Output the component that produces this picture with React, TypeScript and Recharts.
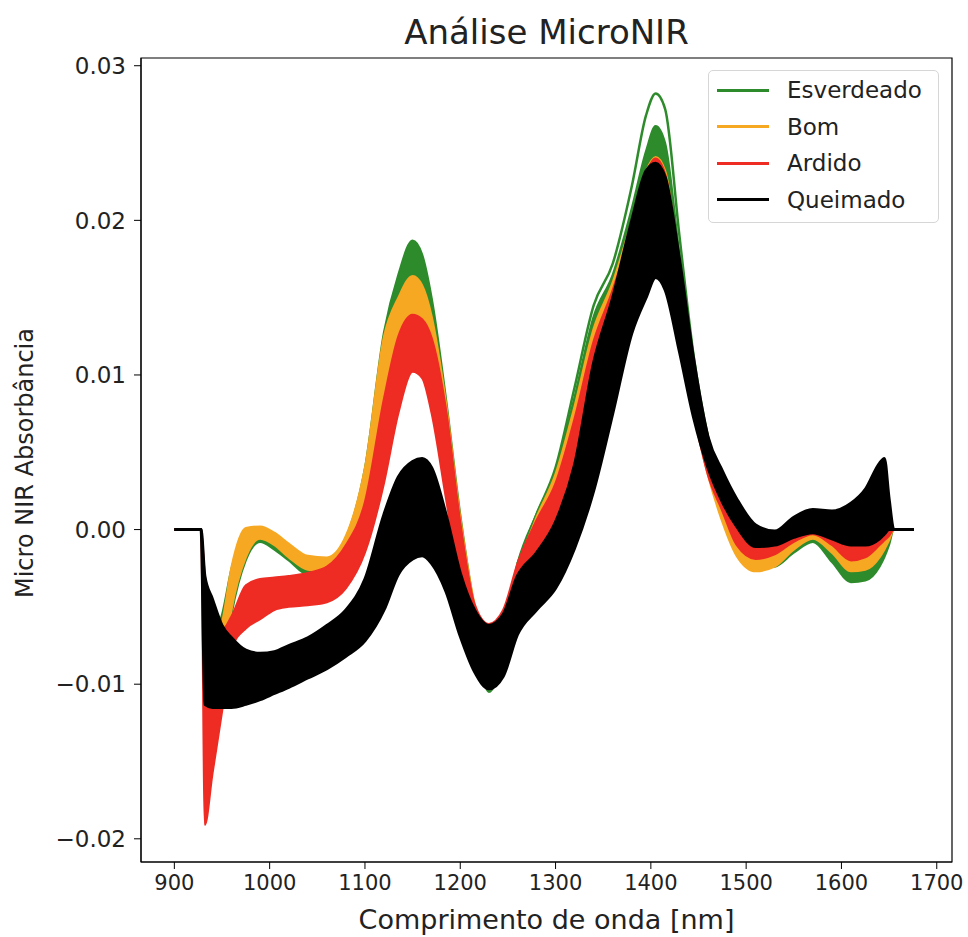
import { ComposedChart, Area, XAxis, YAxis, ReferenceArea } from 'recharts';

// wavelength grid [nm]
const wavelengths = [
  900, 928, 932, 940, 950, 960, 975, 990, 1005, 1020,
  1040, 1060, 1080, 1100, 1120, 1135, 1150, 1160, 1170, 1185,
  1200, 1215, 1230, 1245, 1260, 1280, 1300, 1320, 1340, 1360,
  1380, 1395, 1405, 1415, 1430, 1445, 1460, 1475, 1490, 1510,
  1530, 1550, 1570, 1590, 1610, 1625, 1640, 1645, 1650, 1655, 1676,
];

// envelope of each class (upper / lower spectra)
const esverdeadoHi = [
  0, 0, -0.005, -0.007, -0.0055, -0.0025, -0.0002, -0.0001, -0.0005, -0.0012,
  -0.0019, -0.0019, -0.0005, 0.004, 0.0128, 0.0165, 0.0187, 0.0178, 0.015, 0.0085,
  0.001, -0.005, -0.0085, -0.0065, -0.0022, 0.001, 0.0038, 0.0086, 0.0138, 0.0165,
  0.0208, 0.0245, 0.0261, 0.025, 0.0178, 0.0108, 0.006, 0.003, 0.0005, -0.001,
  -0.0012, -0.0006, -0.0001, -0.001, -0.002, -0.0022, -0.0012, -0.0008, -0.0003, 0, 0,
];
const esverdeadoLo = [
  0, 0, -0.009, -0.0105, -0.0095, -0.0055, -0.002, -0.0008, -0.0013, -0.002,
  -0.0029, -0.0029, -0.0016, 0.0012, 0.0075, 0.012, 0.0158, 0.015, 0.011, 0.005,
  -0.001, -0.0065, -0.0105, -0.0085, -0.0045, -0.0015, 0.0012, 0.005, 0.009, 0.0125,
  0.0165, 0.02, 0.0222, 0.021, 0.014, 0.008, 0.004, 0.001, -0.0012, -0.0025,
  -0.0024, -0.0015, -0.0008, -0.0021, -0.0034, -0.0033, -0.0024, -0.0018, -0.001, 0, 0,
];
// single greenish spectrum standing above the rest around 1400 nm
const esverdeadoOutlier = [
  null, null, null, null, null, null, null, null, null, null,
  null, null, null, null, null, null, null, null, null, null,
  null, null, null, null, -0.0022, 0.001, 0.004, 0.0092, 0.0145, 0.0172,
  0.0222, 0.0268, 0.0282, 0.0272, 0.019, 0.0112, 0.006, 0.003, 0.0005, null,
  null, null, null, null, null, null, null, null, null, null, null,
];
const bomHi = [
  0, 0, -0.0055, -0.0072, -0.006, -0.0024, 0.0001, 0.0002, -0.0002, -0.0009,
  -0.0017, -0.0018, -0.0004, 0.004, 0.0125, 0.015, 0.0164, 0.0158, 0.0138, 0.0082,
  0.0008, -0.0048, -0.007, -0.0058, -0.0025, 0.0008, 0.0036, 0.008, 0.013, 0.016,
  0.02, 0.0232, 0.0241, 0.0232, 0.017, 0.0105, 0.0058, 0.0028, -0.0004, -0.001,
  -0.0009, -0.0004, 0.0001, -0.0006, -0.0013, -0.0014, -0.0008, -0.0005, -0.0002, 0, 0,
];
const bomLo = [
  0, 0, -0.0095, -0.0105, -0.0095, -0.0052, -0.0018, -0.0006, -0.001, -0.0018,
  -0.0026, -0.0027, -0.0015, 0.0008, 0.007, 0.011, 0.0132, 0.0128, 0.01, 0.004,
  -0.002, -0.0068, -0.0092, -0.008, -0.0048, -0.0018, 0.0008, 0.0045, 0.0085, 0.0118,
  0.0155, 0.019, 0.0205, 0.0195, 0.013, 0.0075, 0.0035, 0.0005, -0.0017, -0.0027,
  -0.0024, -0.0013, -0.0006, -0.0015, -0.0027, -0.0026, -0.0018, -0.0013, -0.0007, 0, 0,
];
const ardidoHi = [
  0, 0, -0.003, -0.0055, -0.0065, -0.0056, -0.0036, -0.0032, -0.0031, -0.003,
  -0.0028, -0.0024, -0.001, 0.0018, 0.0085, 0.0125, 0.0139, 0.0136, 0.0124, 0.0078,
  0.0005, -0.0048, -0.0061, -0.0052, -0.0022, 0.0006, 0.003, 0.0072, 0.0122, 0.0155,
  0.0195, 0.023, 0.024, 0.023, 0.0172, 0.0108, 0.006, 0.003, 0.0004, -0.0004,
  -0.0005, 0, 0.0004, -0.0001, -0.0006, -0.0006, 0, 0.0002, 0.0002, 0, 0,
];
const ardidoLo = [
  0, 0, -0.0191, -0.0158, -0.0118, -0.0077, -0.0064, -0.0058, -0.0052, -0.005,
  -0.0049, -0.0047, -0.0038, -0.0015, 0.003, 0.0075, 0.0102, 0.0098, 0.0075, 0.002,
  -0.0035, -0.007, -0.0088, -0.0078, -0.005, -0.0025, 0, 0.003, 0.0075, 0.011,
  0.015, 0.0185, 0.0195, 0.0185, 0.0125, 0.0075, 0.0035, 0.0012, -0.001, -0.0019,
  -0.0016, -0.0008, -0.0003, -0.001, -0.002, -0.0018, -0.001, -0.0007, -0.0004, 0, 0,
];
const queimadoHi = [
  0, 0, -0.003, -0.0045, -0.0062, -0.007, -0.0078, -0.008, -0.0079, -0.0075,
  -0.007, -0.0062, -0.0052, -0.0032, 0.001, 0.0034, 0.0044, 0.0046, 0.004, 0.001,
  -0.0028, -0.0052, -0.0062, -0.0055, -0.003, -0.0015, 0.0005, 0.0042, 0.0108, 0.015,
  0.02, 0.0232, 0.0237, 0.0228, 0.0175, 0.011, 0.006, 0.0038, 0.002, 0.0003,
  -0.0001, 0.0008, 0.0013, 0.0012, 0.0017, 0.0026, 0.0043, 0.0046, 0.002, 0, 0,
];
const queimadoLo = [
  0, 0, -0.0113, -0.0115, -0.0115, -0.0115, -0.0113, -0.011, -0.0106, -0.0102,
  -0.0096, -0.009, -0.0082, -0.0072, -0.0052, -0.0029, -0.0019, -0.0017, -0.0022, -0.004,
  -0.0069, -0.0092, -0.0103, -0.0095, -0.0068, -0.0052, -0.0038, -0.0012, 0.0025, 0.0075,
  0.0127, 0.015, 0.0163, 0.0155, 0.0115, 0.0072, 0.004, 0.0018, 0.0002, -0.0011,
  -0.001, -0.0005, -0.0002, -0.0006, -0.001, -0.001, -0.0006, -0.0003, 0, 0, 0,
];

const xTicks = [900, 1000, 1100, 1200, 1300, 1400, 1500, 1600, 1700];
const yTicks = [-0.02, -0.01, 0, 0.01, 0.02, 0.03];

const classes = [
  { key: 'esverdeado', label: 'Esverdeado', color: '#2e8b2c' },
  { key: 'bom', label: 'Bom', color: '#f7a823' },
  { key: 'ardido', label: 'Ardido', color: '#ee2c24' },
  { key: 'queimado', label: 'Queimado', color: '#000000' },
];

const rows = wavelengths.map((wl, i) => ({
  wl,
  esverdeado: [esverdeadoLo[i], esverdeadoHi[i]],
  outlier: esverdeadoOutlier[i],
  bom: [bomLo[i], bomHi[i]],
  ardido: [ardidoLo[i], ardidoHi[i]],
  queimado: [queimadoLo[i], queimadoHi[i]],
}));

const font = 'DejaVu Sans';
const ink = '#222';

const fmtY = (v: number) => {
  const s = Math.abs(v).toFixed(2);
  return v < -1e-9 ? `\u2212${s}` : s;
};

const band = (c: { key: string; color: string }) => (
  <Area
    key={c.key}
    type="monotone"
    dataKey={c.key}
    stroke={c.color}
    strokeWidth={c.key === 'queimado' ? 3 : 2}
    fill={c.color}
    fillOpacity={1}
    isAnimationActive={false}
  />
);

export default function App() {
  return (
    <div style={{ position: 'absolute', left: 0, top: 0, width: 968, height: 937, background: '#fff', fontFamily: font, color: ink }}>
      <ComposedChart width={968} height={937} data={rows} margin={{ top: 58, right: 16, bottom: 35, left: 61 }}>
        <XAxis
          dataKey="wl"
          type="number"
          domain={[865, 1716]}
          ticks={xTicks}
          interval={0}
          allowDataOverflow
          height={40}
          tickSize={7}
          tickMargin={6}
          stroke="#000"
          tick={{ fill: ink, fontSize: 21, fontFamily: font }}
        />
        <YAxis
          type="number"
          domain={[-0.0215, 0.0305]}
          ticks={yTicks}
          interval={0}
          allowDataOverflow
          width={80}
          tickSize={7}
          tickMargin={8}
          tickFormatter={fmtY}
          stroke="#000"
          tick={{ fill: ink, fontSize: 23, fontFamily: font }}
        />
        {band(classes[0])}
        {/* drawn as an unfilled Area so it stays below the later bands */}
        <Area
          type="monotone"
          dataKey="outlier"
          stroke={classes[0].color}
          strokeWidth={2.5}
          fill="none"
          isAnimationActive={false}
        />
        {band(classes[1])}
        {band(classes[2])}
        {band(classes[3])}
        <ReferenceArea x1={865} x2={1716} y1={-0.0215} y2={0.0305} fill="none" stroke="#000" strokeWidth={1.2} />
      </ComposedChart>

      <div style={{ position: 'absolute', left: 141, width: 811, top: 12, textAlign: 'center', fontSize: 34 }}>
        Análise MicroNIR
      </div>
      <div style={{ position: 'absolute', left: 141, width: 811, top: 904, textAlign: 'center', fontSize: 27 }}>
        Comprimento de onda [nm]
      </div>
      <div
        style={{
          position: 'absolute',
          left: 25,
          top: 463,
          transform: 'translate(-50%, -50%) rotate(-90deg)',
          whiteSpace: 'nowrap',
          fontSize: 24,
        }}
      >
        Micro NIR Absorbância
      </div>

      <div
        style={{
          position: 'absolute',
          left: 708,
          top: 70,
          width: 231,
          height: 153,
          border: '1px solid #d6d6d6',
          borderRadius: 5,
          background: 'rgba(255,255,255,0.85)',
          boxSizing: 'border-box',
        }}
      >
        {classes.map((c, i) => (
          <div key={c.key} style={{ position: 'absolute', left: 8, top: 4 + i * 36.5, height: 30, display: 'flex', alignItems: 'center' }}>
            <div style={{ width: 52, height: 3, background: c.color }} />
            <div style={{ marginLeft: 18, fontSize: 23 }}>{c.label}</div>
          </div>
        ))}
      </div>
    </div>
  );
}
